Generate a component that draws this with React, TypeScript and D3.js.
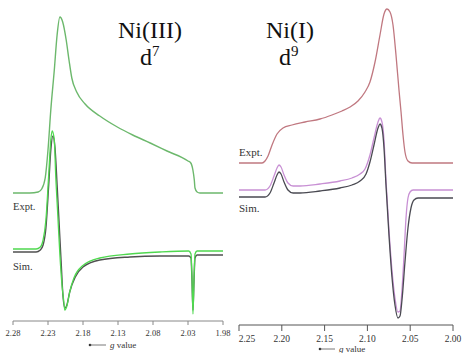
import React from "react";
import * as d3 from "d3";

// ---------- Left panel: Ni(III) d7 ----------
const leftTicks = [2.28, 2.23, 2.18, 2.13, 2.08, 2.03, 1.98];
const exptL_g = [2.28, 2.256, 2.244, 2.239, 2.234, 2.23, 2.226, 2.221, 2.217, 2.213, 2.209, 2.204, 2.2, 2.196, 2.189, 2.177, 2.156, 2.131, 2.109, 2.084, 2.06, 2.03, 2.026, 2.023, 2.021, 2.02, 2.017, 2.013, 1.98];
const exptL_i = [127, 127, 128, 131, 142, 170, 210, 250, 285, 303, 298, 280, 260, 242, 228, 216, 204, 193, 185, 177, 169, 159, 157, 150, 140, 132, 128, 127, 127];
const simDarkL_g = [2.28, 2.247, 2.241, 2.237, 2.233, 2.229, 2.226, 2.223, 2.22, 2.217, 2.214, 2.211, 2.209, 2.206, 2.203, 2.199, 2.191, 2.18, 2.156, 2.113, 2.07, 2.029, 2.0257, 2.0243, 2.0229, 2.0214, 2.02, 2.0171, 1.98];
const simDarkL_i = [68, 68, 70, 75, 92, 135, 170, 184, 172, 135, 95, 55, 28, 12, 15, 28, 43, 53, 60, 63, 64, 64, 62, 40, 10, 40, 62, 65, 65];
const simGreenL_g = [2.28, 2.247, 2.241, 2.237, 2.233, 2.229, 2.226, 2.224, 2.221, 2.219, 2.216, 2.213, 2.21, 2.207, 2.206, 2.203, 2.199, 2.193, 2.181, 2.156, 2.113, 2.07, 2.029, 2.0257, 2.0243, 2.0229, 2.0214, 2.02, 2.0171, 1.98];
const simGreenL_i = [71, 71, 73, 80, 100, 145, 180, 189, 180, 145, 105, 65, 35, 16, 10, 14, 28, 42, 54, 62, 66, 68, 69, 66, 42, 6, 42, 66, 69, 69];

// ---------- Right panel: Ni(I) d9 ----------
const rightTicks = [2.25, 2.2, 2.15, 2.1, 2.05, 2.0];
const exptR_g = [2.25, 2.2231, 2.2196, 2.2161, 2.2114, 2.2056, 2.1986, 2.1881, 2.1729, 2.1554, 2.1414, 2.1297, 2.1203, 2.111, 2.1028, 2.097, 2.0911, 2.0853, 2.0806, 2.0771, 2.0736, 2.0701, 2.0666, 2.0631, 2.0607, 2.0584, 2.0561, 2.0526, 2.0479, 2.0];
const exptR_i = [167, 167, 169, 174, 185, 196, 202, 205, 208, 211, 215, 219, 223, 229, 238, 248, 268, 295, 316, 321, 318, 305, 275, 240, 218, 195, 178, 169, 167, 167];
const simPinkR_g = [2.25, 2.2196, 2.2138, 2.2091, 2.2056, 2.2033, 2.2009, 2.1974, 2.1928, 2.1869, 2.1787, 2.1554, 2.132, 2.118, 2.1086, 2.1028, 2.097, 2.0923, 2.0876, 2.0853, 2.083, 2.0806, 2.0783, 2.0748, 2.0713, 2.0678, 2.0643, 2.0619, 2.0596, 2.0572, 2.0549, 2.0526, 2.0502, 2.0467, 2.0];
const simPinkR_i = [140, 140, 144, 154, 162, 165, 163, 155, 147, 144, 144, 146, 149, 152, 156, 161, 175, 192, 208, 212, 208, 190, 150, 100, 60, 32, 18, 19, 40, 75, 112, 132, 138, 140, 140];
const simDarkR_g = [2.25, 2.2196, 2.2138, 2.2091, 2.2056, 2.2033, 2.2009, 2.1974, 2.1928, 2.1869, 2.1787, 2.1554, 2.132, 2.118, 2.1086, 2.1016, 2.097, 2.0923, 2.0876, 2.0853, 2.083, 2.0806, 2.0783, 2.0748, 2.0713, 2.0678, 2.0643, 2.0619, 2.0596, 2.0561, 2.0526, 2.0491, 2.0456, 2.0409, 2.0];
const simDarkR_i = [133, 133, 137, 147, 155, 158, 156, 148, 140, 137, 137, 139, 142, 145, 149, 156, 168, 185, 202, 206, 202, 182, 145, 95, 53, 25, 12, 14, 30, 68, 102, 122, 130, 132, 132];

const SERIF = "'Liberation Serif', 'Times New Roman', serif";

function pts(g: number[], v: number[]) {
  return g.map((d, k) => [d, v[k]] as [number, number]);
}

export default function App() {
  // left scales
  const xL = d3.scaleLinear().domain([2.28, 1.98]).range([13, 223]);
  const yL = d3.scaleLinear().domain([0, 320]).range([320, 0]);
  // right scales
  const xR = d3.scaleLinear().domain([2.25, 2.0]).range([239, 453]);
  const yR = d3.scaleLinear().domain([0, 330]).range([330, 0]);

  const lineL = d3
    .line<[number, number]>()
    .x((d) => xL(d[0]))
    .y((d) => yL(d[1]))
    .curve(d3.curveMonotoneX);
  const lineR = d3
    .line<[number, number]>()
    .x((d) => xR(d[0]))
    .y((d) => yR(d[1]))
    .curve(d3.curveMonotoneX);

  const axisYL = 321;
  const axisYR = 325;

  return (
    <svg
      width={463}
      height={353}
      style={{ position: "absolute", left: 0, top: 0, background: "#fff" }}
    >
      {/* Left panel curves */}
      <path d={lineL(pts(exptL_g, exptL_i)) || ""} fill="none" stroke="#6cb86c" strokeWidth={1.4} />
      <path d={lineL(pts(simDarkL_g, simDarkL_i)) || ""} fill="none" stroke="#505050" strokeWidth={1.4} />
      <path d={lineL(pts(simGreenL_g, simGreenL_i)) || ""} fill="none" stroke="#4fd84f" strokeWidth={1.3} />

      {/* Right panel curves */}
      <path d={lineR(pts(exptR_g, exptR_i)) || ""} fill="none" stroke="#c07880" strokeWidth={1.3} />
      <path d={lineR(pts(simPinkR_g, simPinkR_i)) || ""} fill="none" stroke="#c890d4" strokeWidth={1.3} />
      <path d={lineR(pts(simDarkR_g, simDarkR_i)) || ""} fill="none" stroke="#4a4a52" strokeWidth={1.3} />

      {/* Left axis */}
      <line x1={xL(2.28)} x2={xL(1.98)} y1={axisYL} y2={axisYL} stroke="#888" strokeWidth={1} />
      {leftTicks.map((t) => (
        <g key={"lt" + t}>
          <line x1={xL(t)} x2={xL(t)} y1={axisYL} y2={axisYL + 4} stroke="#888" strokeWidth={1} />
          <text x={xL(t)} y={336} fontSize={8.5} fontFamily={SERIF} textAnchor="middle" fill="#333">
            {t.toFixed(2)}
          </text>
        </g>
      ))}
      {/* Right axis */}
      <line x1={xR(2.25)} x2={xR(2.0)} y1={axisYR} y2={axisYR} stroke="#555" strokeWidth={1} />
      {rightTicks.map((t) => (
        <g key={"rt" + t}>
          <line x1={xR(t)} x2={xR(t)} y1={axisYR} y2={axisYR + 6} stroke="#555" strokeWidth={1} />
          <text x={xR(t) + (t === 2.25 ? 8 : 0)} y={342} fontSize={9.5} fontFamily={SERIF} textAnchor="middle" fill="#333">
            {t.toFixed(2)}
          </text>
        </g>
      ))}

      {/* g value captions */}
      <circle cx={90} cy={345} r={1.3} fill="#333" />
      <line x1={90} x2={106} y1={345} y2={345} stroke="#555" strokeWidth={0.8} />
      <text x={110} y={348} fontSize={9} fontFamily={SERIF} fill="#333">
        <tspan fontStyle="italic">g</tspan> value
      </text>
      <circle cx={320} cy={349} r={1.3} fill="#333" />
      <line x1={320} x2={335} y1={349} y2={349} stroke="#555" strokeWidth={0.8} />
      <text x={339} y={352} fontSize={9} fontFamily={SERIF} fill="#333">
        <tspan fontStyle="italic">g</tspan> value
      </text>

      {/* Series labels */}
      <text x={13} y={210} fontSize={10.5} fontFamily={SERIF} fill="#333">Expt.</text>
      <text x={13} y={270} fontSize={10.5} fontFamily={SERIF} fill="#333">Sim.</text>
      <text x={239} y={156} fontSize={11} fontFamily={SERIF} fill="#333">Expt.</text>
      <text x={239} y={212} fontSize={11} fontFamily={SERIF} fill="#333">Sim.</text>

      {/* Titles */}
      <text x={150} y={38} fontSize={24} fontFamily={SERIF} textAnchor="middle" fill="#111">Ni(III)</text>
      <text x={140} y={65} fontSize={24} fontFamily={SERIF} fill="#111">
        d<tspan fontSize={15} dy={-9}>7</tspan>
      </text>
      <text x={290} y={38} fontSize={24} fontFamily={SERIF} textAnchor="middle" fill="#111">Ni(I)</text>
      <text x={279} y={65} fontSize={24} fontFamily={SERIF} fill="#111">
        d<tspan fontSize={15} dy={-9}>9</tspan>
      </text>
    </svg>
  );
}
